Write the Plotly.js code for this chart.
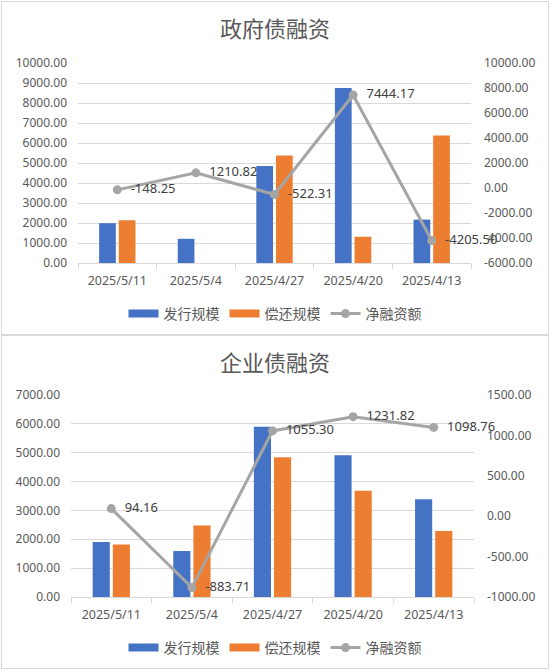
<!DOCTYPE html>
<html>
<head>
<meta charset="utf-8">
<script src="https://cdn.plot.ly/plotly-3.0.1.min.js"></script>
<style>
  html, body { margin:0; padding:0; background:#ffffff; width:550px; height:670px; overflow:hidden; }
  .box { position:absolute; left:1px; width:548px; height:334px; border:1px solid #d9d9d9; box-sizing:border-box; background:#fff; }
  .plot { width:546px; height:332px; }
</style>
</head>
<body>
<div class="box" style="top:1px;"><div id="gov" class="plot"></div></div>
<div class="box" style="top:335px;"><div id="corp" class="plot"></div></div>
<script>
// ---- data ----
const categories = ['2025/5/11', '2025/5/4', '2025/4/27', '2025/4/20', '2025/4/13'];
const seriesNames = ['发行规模', '偿还规模', '净融资额'];

const govTitle = '政府债融资';
const govIssue = [1990, 1211, 4850, 8755, 2170];
const govRepay = [2138, 0, 5372, 1311, 6376];
const govNet = [-148.25, 1210.82, -522.31, 7444.17, -4205.50];
const govLeftTicks = [0, 1000, 2000, 3000, 4000, 5000, 6000, 7000, 8000, 9000, 10000];
const govRightTicks = [-6000, -4000, -2000, 0, 2000, 4000, 6000, 8000, 10000];

const corpTitle = '企业债融资';
const corpIssue = [1910, 1595, 5900, 4913, 3385];
const corpRepay = [1816, 2479, 4845, 3681, 2286];
const corpNet = [94.16, -883.71, 1055.30, 1231.82, 1098.76];
const corpLeftTicks = [0, 1000, 2000, 3000, 4000, 5000, 6000, 7000];
const corpRightTicks = [-1000, -500, 0, 500, 1000, 1500];

// ---- styling ----
const FONT = 'Noto Sans, Noto Sans CJK SC, sans-serif';
const GRAY = '#595959';
const GRID = '#d9d9d9';
const BLUE = '#4472C4', ORANGE = '#ED7D31', LINE = '#A5A5A5';
const fmt = v => v.toFixed(2);

function build(div, title, issue, repay, net, leftTicks, rightTicks, m) {
  const traces = [
    { type:'bar', name:seriesNames[0], x:categories, y:issue, marker:{color:BLUE}, yaxis:'y', hoverinfo:'skip', showlegend:false },
    { type:'bar', name:seriesNames[1], x:categories, y:repay, marker:{color:ORANGE}, yaxis:'y', hoverinfo:'skip', showlegend:false },
    { type:'scatter', mode:'lines+markers+text', name:seriesNames[2], x:categories, y:net, yaxis:'y2',
      line:{color:LINE, width:3}, marker:{color:LINE, size:9},
      text:net.map(v => '\u00a0\u00a0' + fmt(v)), textposition:'middle right', cliponaxis:false,
      textfont:{family:FONT, size:13, color:'#404040'}, hoverinfo:'skip', showlegend:false },
    // legend entries (Excel-style wide swatches)
    { type:'scatter', mode:'lines', name:seriesNames[0], x:[null], y:[null], line:{color:BLUE, width:8}, legendrank:1 },
    { type:'scatter', mode:'lines', name:seriesNames[1], x:[null], y:[null], line:{color:ORANGE, width:8}, legendrank:2 },
    { type:'scatter', mode:'lines+markers', name:seriesNames[2], x:[null], y:[null], yaxis:'y2', line:{color:LINE, width:3}, marker:{color:LINE, size:9}, legendrank:3 }
  ];
  const layout = {
    width:546, height:332,
    margin:{l:m.l, r:m.r, t:m.t, b:m.b, pad:0},
    paper_bgcolor:'#ffffff', plot_bgcolor:'#ffffff',
    font:{family:FONT, color:GRAY, size:12},
    title:{text:title, x:0.5, xanchor:'center', xref:'container', y:1-27/332, yanchor:'middle', yref:'container',
           font:{family:'Noto Sans CJK SC, sans-serif', size:22, color:GRAY}},
    barmode:'group', bargap:0.5, bargroupgap:0.15,
    showlegend:true,
    legend:{orientation:'h', x:0.5, xanchor:'center', xref:'container', y:1-312/332, yanchor:'middle', yref:'container',
            font:{family:'Noto Sans CJK SC, sans-serif', size:14, color:GRAY}, traceorder:'normal'},
    xaxis:{type:'category', showline:true, linecolor:GRID, linewidth:1, ticks:'outside', tickson:'boundaries',
           ticklen:5, tickcolor:GRID, showgrid:false, zeroline:false, tickfont:{size:12.5, color:GRAY}, ticklabelstandoff:6},
    yaxis:{range:[leftTicks[0], leftTicks[leftTicks.length-1]], tickvals:leftTicks, ticktext:leftTicks.map(fmt),
           showgrid:true, gridcolor:GRID, gridwidth:1, zeroline:false, showline:false, ticks:'',
           tickfont:{size:12, color:GRAY}, ticklabelstandoff:10},
    yaxis2:{overlaying:'y', side:'right', range:[rightTicks[0], rightTicks[rightTicks.length-1]],
            tickvals:rightTicks, ticktext:rightTicks.map(fmt), showgrid:false, zeroline:false, showline:false, ticks:'',
            tickfont:{size:12, color:GRAY}, ticklabelstandoff:12}
  };
  Plotly.newPlot(div, traces, layout, {displayModeBar:false, staticPlot:true});
}

build('gov', govTitle, govIssue, govRepay, govNet, govLeftTicks, govRightTicks, {l:76, r:77, t:60.7, b:70.7});
build('corp', corpTitle, corpIssue, corpRepay, corpNet, corpLeftTicks, corpRightTicks, {l:69, r:74, t:59, b:70.7});
</script>
</body>
</html>
